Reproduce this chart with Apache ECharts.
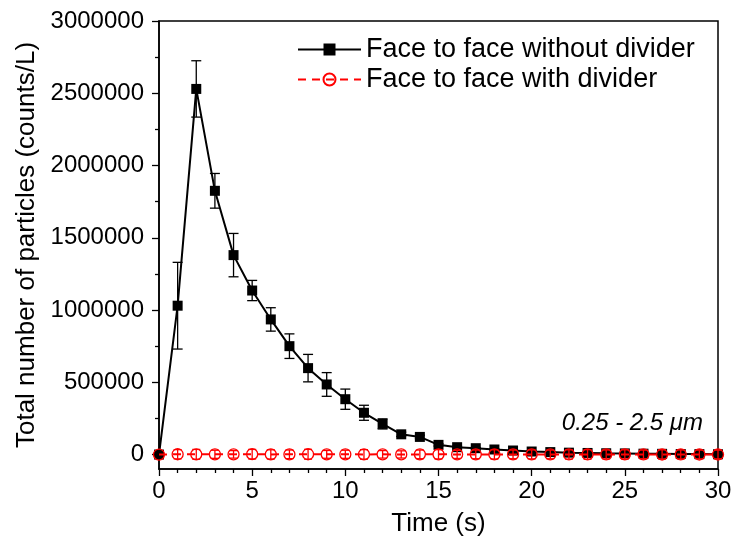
<!DOCTYPE html>
<html>
<head>
<meta charset="utf-8">
<script src="https://cdn.jsdelivr.net/npm/echarts@6/dist/echarts.min.js"></script>
<style>
  html, body { margin: 0; padding: 0; background: #fff; }
  #chart { width: 746px; height: 543px; }
</style>
</head>
<body>
<div id="chart"></div>
<script>
// time axis (s)
const timeS = [0, 1, 2, 3, 4, 5, 6, 7, 8, 9, 10, 11, 12, 13, 14, 15, 16, 17, 18, 19, 20, 21, 22, 23, 24, 25, 26, 27, 28, 29, 30];
// face to face without divider (counts/L) and its error
const withoutDivider = [0, 1030000, 2530000, 1825000, 1380000, 1135000, 935000, 750000, 598000, 485000, 383000, 289000, 212000, 140000, 122000, 67000, 51000, 44000, 35000, 28000, 21000, 17000, 13000, 11000, 9000, 8000, 6000, 5000, 4000, 3000, 2000];
const withoutErr = [0, 300000, 195000, 120000, 150000, 70000, 81000, 85000, 95000, 82000, 70000, 52000, 35000, 15000, 12000, 8000, 6000, 5000, 4000, 4000, 3000, 3000, 2000, 2000, 2000, 2000, 1500, 1500, 1500, 1000, 1000];
// face to face with divider (counts/L) and its error
const withDivider = [0, 2000, 1500, 1800, 1200, 2500, 1000, 1500, 2000, 1200, 1800, 1000, 1500, 800, 1200, 1500, 1000, 1200, 800, 1000, 900, 800, 700, 900, 600, 800, 700, 500, 600, 500, 400];
const withErr = [0, 32000, 34000, 28000, 26000, 33000, 32000, 30000, 34000, 27000, 28000, 33000, 26000, 25000, 30000, 32000, 28000, 30000, 32000, 30000, 31000, 30000, 32000, 33000, 31000, 32000, 30000, 32000, 31000, 30000, 30000];
// tick labels
const yLabelValues = [0, 500000, 1000000, 1500000, 2000000, 2500000, 3000000];
const yMinorValues = [250000, 750000, 1250000, 1750000, 2250000, 2750000];

const font = 'Liberation Sans, Arial, sans-serif';
const chart = echarts.init(document.getElementById('chart'));

function errorBars(name, values, errors, color, capWidth, z) {
  return {
    type: 'custom',
    name: name,
    z: z,
    silent: true,
    data: timeS.map((t, i) => [t, values[i] - errors[i], values[i] + errors[i], errors[i]]),
    encode: { x: 0, y: [1, 2] },
    renderItem(params, api) {
      if (!api.value(3)) return null;
      const x = api.value(0);
      const lo = api.coord([x, api.value(1)]);
      const hi = api.coord([x, api.value(2)]);
      const hw = capWidth / 2;
      const style = { stroke: color, lineWidth: 1.3, fill: null };
      return {
        type: 'group',
        children: [
          { type: 'line', shape: { x1: lo[0], y1: lo[1], x2: hi[0], y2: hi[1] }, style },
          { type: 'line', shape: { x1: lo[0] - hw, y1: lo[1], x2: lo[0] + hw, y2: lo[1] }, style },
          { type: 'line', shape: { x1: hi[0] - hw, y1: hi[1], x2: hi[0] + hw, y2: hi[1] }, style }
        ]
      };
    }
  };
}

const option = {
  animation: false,
  backgroundColor: '#fff',
  textStyle: { fontFamily: font },
  grid: {
    left: 159, right: 28, top: 21, bottom: 74,
    outerBoundsMode: 'none',
    containLabel: false,
    show: true, borderColor: '#000', borderWidth: 1.5, backgroundColor: 'transparent'
  },
  legend: {
    orient: 'vertical',
    left: 292,
    top: 31,
    itemWidth: 63,
    itemHeight: 15,
    itemGap: 3,
    textStyle: { fontSize: 27, color: '#000', fontFamily: font },
    data: ['Face to face without divider', 'Face to face with divider']
  },
  xAxis: {
    type: 'value',
    min: 0, max: 30, interval: 5,
    name: 'Time (s)',
    nameLocation: 'middle',
    nameGap: 42,
    nameTextStyle: { fontSize: 26, color: '#000', fontFamily: font },
    axisLine: { onZero: false, lineStyle: { color: '#000', width: 1.5 } },
    axisTick: { show: true, inside: false, length: 7, lineStyle: { color: '#000', width: 1.3 } },
    minorTick: { show: true, splitNumber: 5, length: 4, lineStyle: { color: '#000', width: 1.3 } },
    axisLabel: { fontSize: 24, color: '#000', margin: 10, fontFamily: font },
    splitLine: { show: false }
  },
  yAxis: [
    {
      type: 'value',
      min: -100000, max: 3000000,
      name: 'Total number of particles (counts/L)',
      nameLocation: 'middle',
      nameGap: 118,
      nameTextStyle: { fontSize: 26, color: '#000', fontFamily: font },
      axisLine: { onZero: false, lineStyle: { color: '#000', width: 1.5 } },
      axisTick: { show: true, length: 7, customValues: yLabelValues, lineStyle: { color: '#000', width: 1.3 } },
      axisLabel: {
        fontSize: 24, color: '#000', margin: 15, customValues: yLabelValues, fontFamily: font,
        formatter: (v) => String(v)
      },
      splitLine: { show: false }
    },
    {
      type: 'value',
      min: -100000, max: 3000000,
      position: 'left',
      offset: 0,
      axisLine: { show: false },
      axisTick: { show: true, length: 4, customValues: yMinorValues, lineStyle: { color: '#000', width: 1.3 } },
      axisLabel: { show: false, customValues: yMinorValues },
      splitLine: { show: false }
    }
  ],
  graphic: [
    {
      type: 'text',
      right: 43,
      top: 411,
      style: { text: '0.25 - 2.5 \u03bcm', font: 'italic 24px ' + font, fill: '#000' }
    }
  ],
  series: [
    errorBars('err-without', withoutDivider, withoutErr, '#000', 10, 2),
    {
      name: 'Face to face without divider',
      type: 'line',
      z: 3,
      data: timeS.map((t, i) => [t, withoutDivider[i]]),
      symbol: 'rect',
      symbolSize: 10,
      showAllSymbol: true,
      lineStyle: { color: '#000', width: 2 },
      itemStyle: { color: '#000' }
    },
    errorBars('err-with', withDivider, withErr, '#ff0000', 8, 4),
    {
      name: 'Face to face with divider',
      type: 'line',
      z: 5,
      data: timeS.map((t, i) => [t, withDivider[i]]),
      symbol: 'circle',
      symbolSize: 11,
      showAllSymbol: true,
      lineStyle: { color: '#ff0000', width: 2, type: [8, 6] },
      itemStyle: { color: 'transparent', borderColor: '#ff0000', borderWidth: 1.3 }
    }
  ]
};

chart.setOption(option);
</script>
</body>
</html>
